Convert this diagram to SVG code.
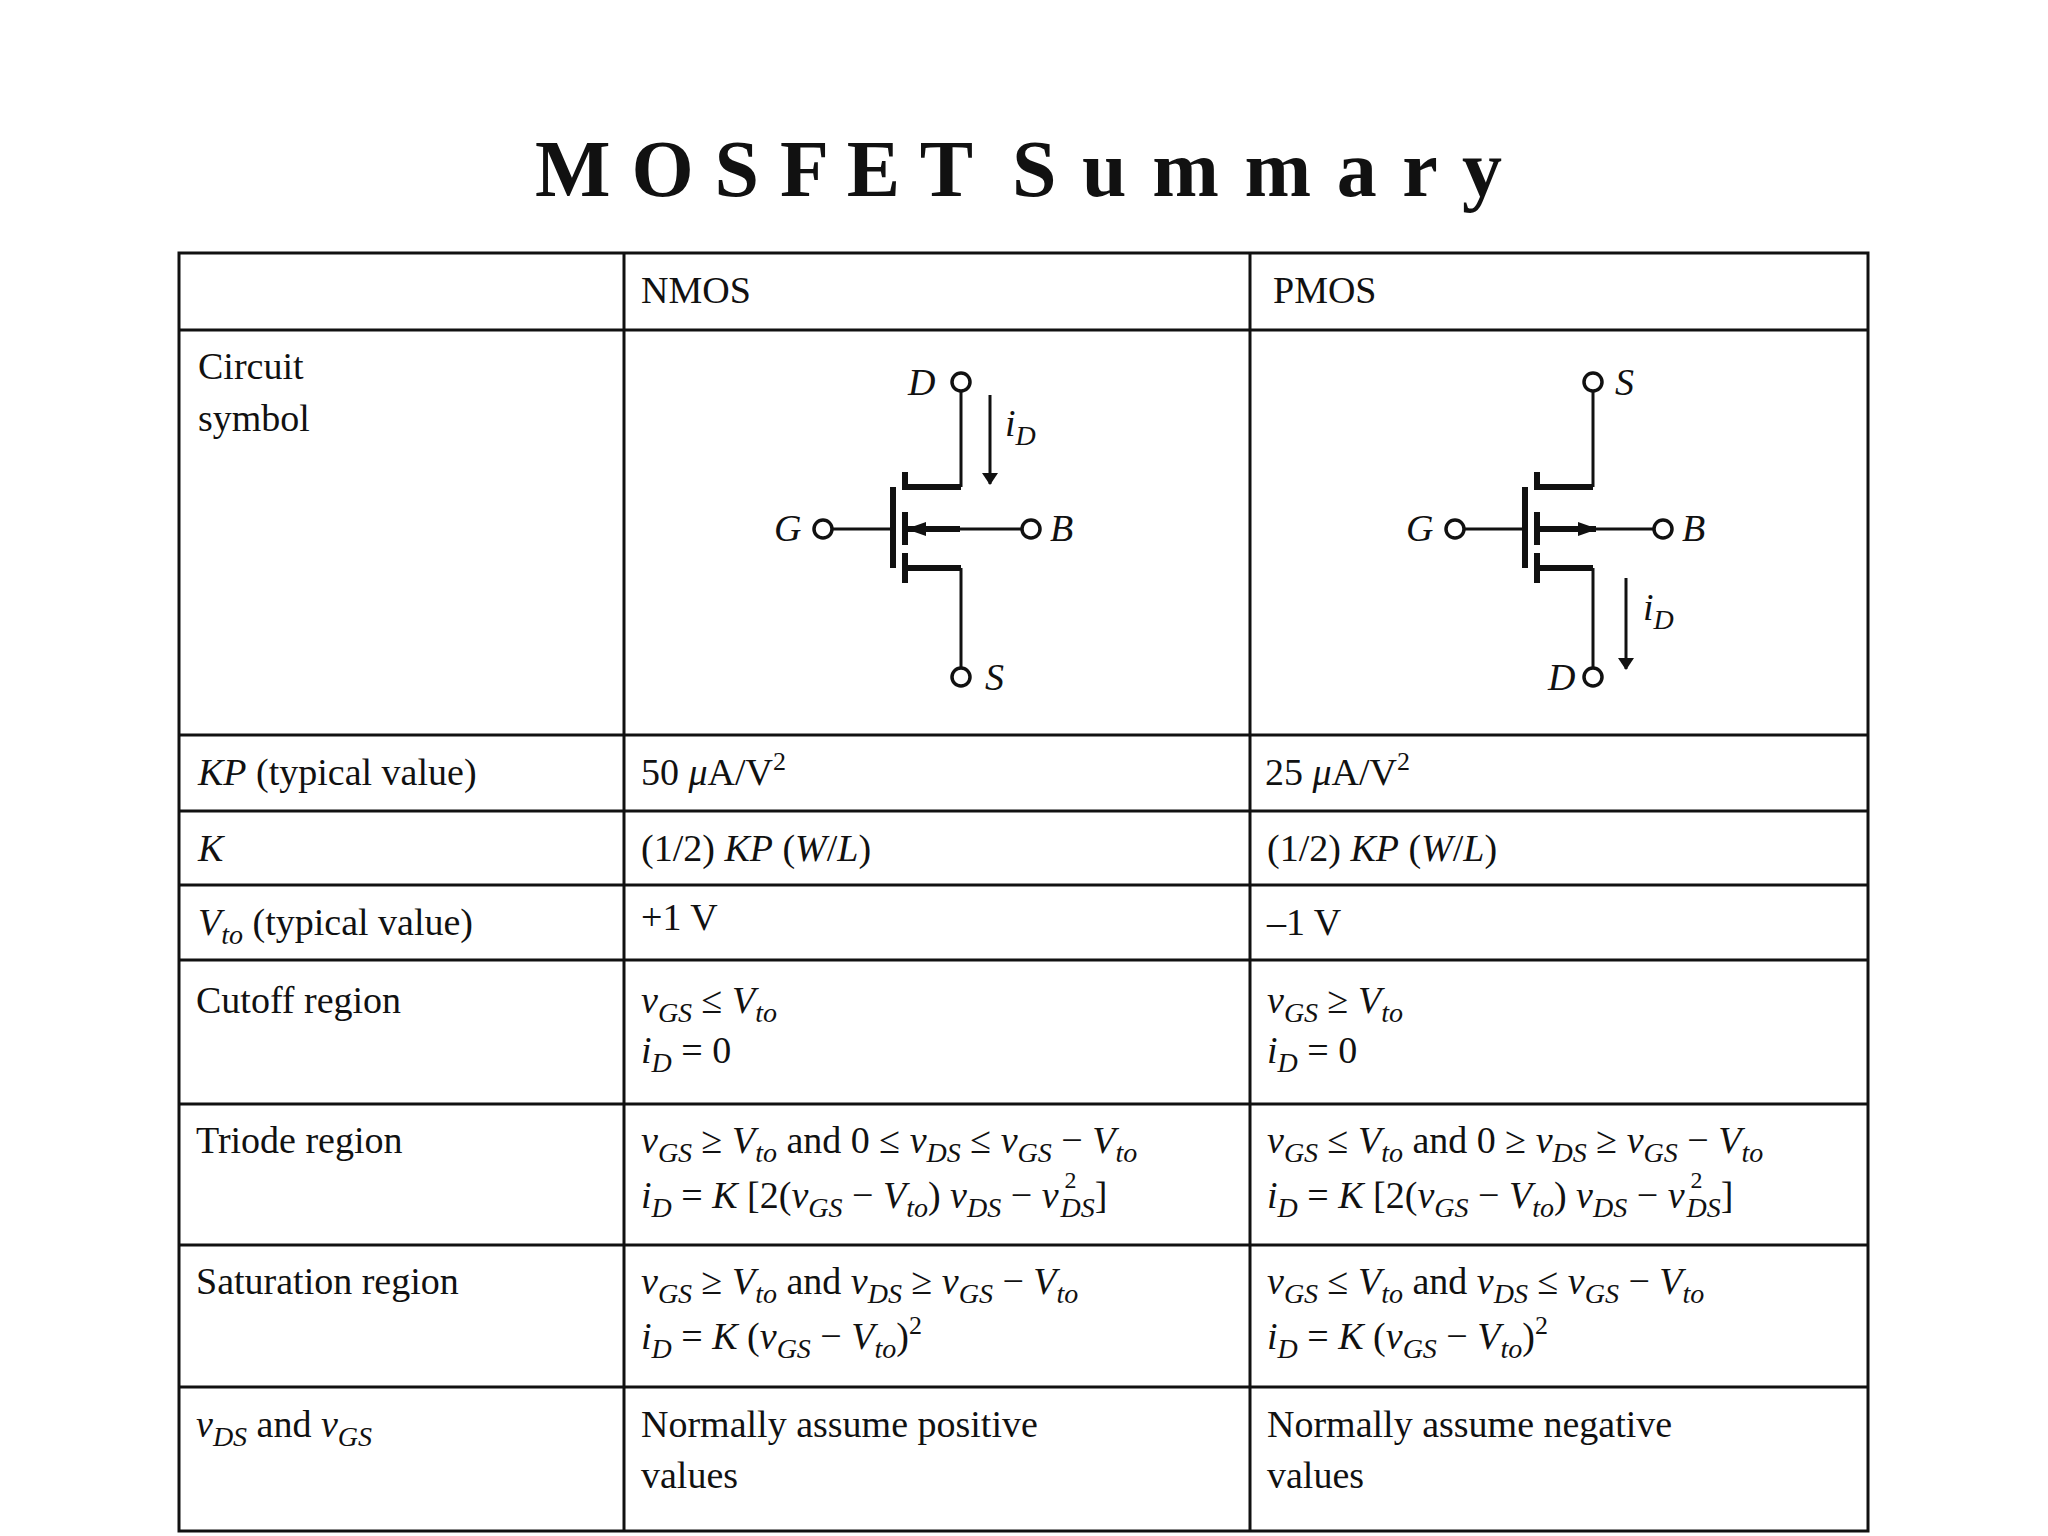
<svg xmlns="http://www.w3.org/2000/svg" width="2048" height="1536" viewBox="0 0 2048 1536">
<style>
text{font-family:"Liberation Serif","Times New Roman",serif;font-size:38px;fill:#111}
.i{font-style:italic}
.sb{font-size:28px;baseline-shift:-9px;font-style:italic}
.sp{font-size:26px;baseline-shift:15px}
.sp2{font-size:24px;baseline-shift:20px}
.g{fill:none;stroke:#111;stroke-width:3}
.t{fill:none;stroke:#111;stroke-width:6}
.c{fill:#fff;stroke:#111;stroke-width:3.5}
.lbl{font-style:italic;font-size:38px}
.ttl{font-weight:bold;font-size:80px}
</style>
<defs>
<marker id="ar" markerWidth="12" markerHeight="16" refX="11" refY="8" orient="auto" markerUnits="userSpaceOnUse" viewBox="0 0 12 16"><path d="M0,0 L12,8 L0,16 Z" fill="#111"/></marker>
<marker id="ar2" markerWidth="20" markerHeight="14" refX="18" refY="7" orient="auto" markerUnits="userSpaceOnUse" viewBox="0 0 20 14"><path d="M0,0 L20,7 L0,14 Z" fill="#111"/></marker>
</defs>
<rect width="2048" height="1536" fill="#fff"/>
<text class="ttl" x="535" y="196" textLength="438" lengthAdjust="spacing">M O S F E T</text>
<text class="ttl" x="1012" y="196" textLength="490" lengthAdjust="spacing">S u m m a r y</text>
<g id="table" fill="none" stroke="#111" stroke-width="3">
<rect x="179" y="253" width="1689" height="1278"/>
<line x1="624" y1="253" x2="624" y2="1531"/>
<line x1="1250" y1="253" x2="1250" y2="1531"/>
<line x1="179" y1="330" x2="1868" y2="330"/>
<line x1="179" y1="735" x2="1868" y2="735"/>
<line x1="179" y1="811" x2="1868" y2="811"/>
<line x1="179" y1="885" x2="1868" y2="885"/>
<line x1="179" y1="960" x2="1868" y2="960"/>
<line x1="179" y1="1104" x2="1868" y2="1104"/>
<line x1="179" y1="1245" x2="1868" y2="1245"/>
<line x1="179" y1="1387" x2="1868" y2="1387"/>
</g>
<g id="col0">
<text x="198" y="379">Circuit</text>
<text x="198" y="431">symbol</text>
<text x="198" y="785"><tspan class="i">KP</tspan> (typical value)</text>
<text x="198" y="861" class="i">K</text>
<text x="198" y="935"><tspan class="i">V</tspan><tspan class="sb">to</tspan> (typical value)</text>
<text x="196" y="1013">Cutoff region</text>
<text x="196" y="1153">Triode region</text>
<text x="196" y="1294">Saturation region</text>
<text x="196" y="1437"><tspan class="i">v</tspan><tspan class="sb">DS</tspan> and <tspan class="i">v</tspan><tspan class="sb">GS</tspan></text>
</g>
<g id="col1">
<text x="641" y="303">NMOS</text>
<text x="641" y="785">50 <tspan class="i">μ</tspan>A/V<tspan class="sp">2</tspan></text>
<text x="641" y="861">(1/2) <tspan class="i">KP</tspan> (<tspan class="i">W</tspan>/<tspan class="i">L</tspan>)</text>
<text x="641" y="930">+1 V</text>
<text x="641" y="1013"><tspan class="i">v</tspan><tspan class="sb">GS</tspan> ≤ <tspan class="i">V</tspan><tspan class="sb">to</tspan></text>
<text x="641" y="1063"><tspan class="i">i</tspan><tspan class="sb">D</tspan> = 0</text>
<text x="641" y="1153"><tspan class="i">v</tspan><tspan class="sb">GS</tspan> ≥ <tspan class="i">V</tspan><tspan class="sb">to</tspan> and 0 ≤ <tspan class="i">v</tspan><tspan class="sb">DS</tspan> ≤ <tspan class="i">v</tspan><tspan class="sb">GS</tspan> − <tspan class="i">V</tspan><tspan class="sb">to</tspan></text>
<text x="641" y="1208"><tspan class="i">i</tspan><tspan class="sb">D</tspan> = <tspan class="i">K</tspan> [2(<tspan class="i">v</tspan><tspan class="sb">GS</tspan> − <tspan class="i">V</tspan><tspan class="sb">to</tspan>) <tspan class="i">v</tspan><tspan class="sb">DS</tspan> − <tspan class="i">v</tspan><tspan class="sp2" dx="6">2</tspan><tspan class="sb" dx="-16">DS</tspan>]</text>
<text x="641" y="1294"><tspan class="i">v</tspan><tspan class="sb">GS</tspan> ≥ <tspan class="i">V</tspan><tspan class="sb">to</tspan> and <tspan class="i">v</tspan><tspan class="sb">DS</tspan> ≥ <tspan class="i">v</tspan><tspan class="sb">GS</tspan> − <tspan class="i">V</tspan><tspan class="sb">to</tspan></text>
<text x="641" y="1349"><tspan class="i">i</tspan><tspan class="sb">D</tspan> = <tspan class="i">K</tspan> (<tspan class="i">v</tspan><tspan class="sb">GS</tspan> − <tspan class="i">V</tspan><tspan class="sb">to</tspan>)<tspan class="sp">2</tspan></text>
<text x="641" y="1437">Normally assume positive</text>
<text x="641" y="1488">values</text>
</g>
<g id="col2">
<text x="1273" y="303">PMOS</text>
<text x="1265" y="785">25 <tspan class="i">μ</tspan>A/V<tspan class="sp">2</tspan></text>
<text x="1267" y="861">(1/2) <tspan class="i">KP</tspan> (<tspan class="i">W</tspan>/<tspan class="i">L</tspan>)</text>
<text x="1267" y="935">–1 V</text>
<text x="1267" y="1013"><tspan class="i">v</tspan><tspan class="sb">GS</tspan> ≥ <tspan class="i">V</tspan><tspan class="sb">to</tspan></text>
<text x="1267" y="1063"><tspan class="i">i</tspan><tspan class="sb">D</tspan> = 0</text>
<text x="1267" y="1153"><tspan class="i">v</tspan><tspan class="sb">GS</tspan> ≤ <tspan class="i">V</tspan><tspan class="sb">to</tspan> and 0 ≥ <tspan class="i">v</tspan><tspan class="sb">DS</tspan> ≥ <tspan class="i">v</tspan><tspan class="sb">GS</tspan> − <tspan class="i">V</tspan><tspan class="sb">to</tspan></text>
<text x="1267" y="1208"><tspan class="i">i</tspan><tspan class="sb">D</tspan> = <tspan class="i">K</tspan> [2(<tspan class="i">v</tspan><tspan class="sb">GS</tspan> − <tspan class="i">V</tspan><tspan class="sb">to</tspan>) <tspan class="i">v</tspan><tspan class="sb">DS</tspan> − <tspan class="i">v</tspan><tspan class="sp2" dx="6">2</tspan><tspan class="sb" dx="-16">DS</tspan>]</text>
<text x="1267" y="1294"><tspan class="i">v</tspan><tspan class="sb">GS</tspan> ≤ <tspan class="i">V</tspan><tspan class="sb">to</tspan> and <tspan class="i">v</tspan><tspan class="sb">DS</tspan> ≤ <tspan class="i">v</tspan><tspan class="sb">GS</tspan> − <tspan class="i">V</tspan><tspan class="sb">to</tspan></text>
<text x="1267" y="1349"><tspan class="i">i</tspan><tspan class="sb">D</tspan> = <tspan class="i">K</tspan> (<tspan class="i">v</tspan><tspan class="sb">GS</tspan> − <tspan class="i">V</tspan><tspan class="sb">to</tspan>)<tspan class="sp">2</tspan></text>
<text x="1267" y="1437">Normally assume negative</text>
<text x="1267" y="1488">values</text>
</g>
<g id="nmos">
<line class="g" x1="961" y1="392" x2="961" y2="487"/>
<path class="t" d="M905,487 H961"/>
<path class="t" d="M905,472 V490 M905,512 V545 M905,553 V583"/>
<line class="t" x1="893" y1="487" x2="893" y2="568"/>
<line class="g" x1="833" y1="529" x2="893" y2="529"/>
<line class="g" x1="1021" y1="529" x2="960" y2="529"/>
<line stroke="#111" stroke-width="6" x1="960" y1="529" x2="908" y2="529" marker-end="url(#ar2)"/>
<path class="t" d="M905,568 H961"/>
<line class="g" x1="961" y1="568" x2="961" y2="667"/>
<circle class="c" cx="961" cy="382" r="9"/>
<circle class="c" cx="823" cy="529" r="9"/>
<circle class="c" cx="1031" cy="529" r="9"/>
<circle class="c" cx="961" cy="677" r="9"/>
<line class="g" x1="990" y1="395" x2="990" y2="484" marker-end="url(#ar)"/>
<text class="lbl" x="908" y="395">D</text>
<text class="lbl" x="774" y="541">G</text>
<text class="lbl" x="1050" y="541">B</text>
<text class="lbl" x="985" y="690">S</text>
<text x="1005" y="436"><tspan class="i">i</tspan><tspan class="sb">D</tspan></text>
</g>
<g id="pmos">
<line class="g" x1="1593" y1="392" x2="1593" y2="487"/>
<path class="t" d="M1537,487 H1593"/>
<path class="t" d="M1537,472 V490 M1537,512 V545 M1537,553 V583"/>
<line class="t" x1="1525" y1="487" x2="1525" y2="568"/>
<line class="g" x1="1465" y1="529" x2="1525" y2="529"/>
<line stroke="#111" stroke-width="6" x1="1537" y1="529" x2="1596" y2="529" marker-end="url(#ar2)"/>
<line class="g" x1="1596" y1="529" x2="1653" y2="529"/>
<path class="t" d="M1537,568 H1593"/>
<line class="g" x1="1593" y1="568" x2="1593" y2="667"/>
<circle class="c" cx="1593" cy="382" r="9"/>
<circle class="c" cx="1455" cy="529" r="9"/>
<circle class="c" cx="1663" cy="529" r="9"/>
<circle class="c" cx="1593" cy="677" r="9"/>
<line class="g" x1="1626" y1="578" x2="1626" y2="669" marker-end="url(#ar)"/>
<text class="lbl" x="1615" y="395">S</text>
<text class="lbl" x="1406" y="541">G</text>
<text class="lbl" x="1682" y="541">B</text>
<text class="lbl" x="1548" y="690">D</text>
<text x="1643" y="620"><tspan class="i">i</tspan><tspan class="sb">D</tspan></text>
</g>
</svg>
